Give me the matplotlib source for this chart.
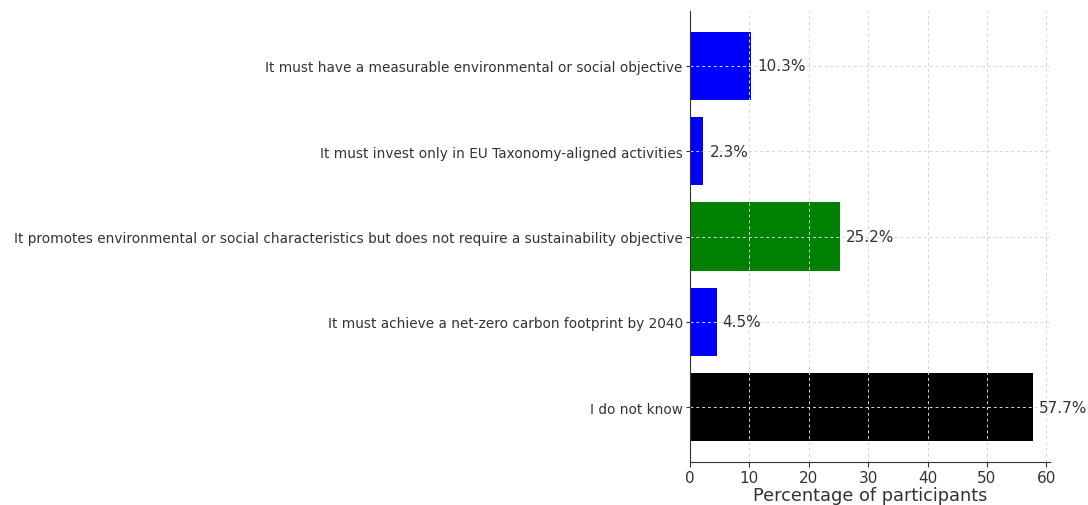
import matplotlib
matplotlib.use("Agg")
import matplotlib.pyplot as plt

labels = [
    "I do not know",
    "It must achieve a net-zero carbon footprint by 2040",
    "It promotes environmental or social characteristics but does not require a sustainability objective",
    "It must invest only in EU Taxonomy-aligned activities",
    "It must have a measurable environmental or social objective",
]
values = [57.7, 4.5, 25.2, 2.3, 10.3]
colors = ["black", "blue", "green", "blue", "blue"]

TEXT = "#333333"

fig = plt.figure(figsize=(10.88, 5.06), dpi=100)
ax = fig.add_axes([0.634, 0.085, 0.331, 0.891])

bars = ax.barh(labels, values, color=colors, height=0.8)
for b, v in zip(bars, values):
    ax.text(b.get_width() + 1, b.get_y() + b.get_height() / 2, f"{v}%",
            va="center", ha="left", fontsize=11, color=TEXT)

ax.set_xlim(0, 60.6)
ax.set_xticks(range(0, 61, 10))
ax.grid(True, linestyle=(0, (3, 3)), color="#d5d5d5", linewidth=0.7)
ax.set_axisbelow(False)
for s in ["top", "right"]:
    ax.spines[s].set_visible(False)
ax.spines["left"].set_color(TEXT)
ax.spines["bottom"].set_color(TEXT)
ax.spines["left"].set_zorder(3)
ax.tick_params(axis="x", direction="out", labelsize=11, colors=TEXT, length=3.5, pad=2)
ax.tick_params(axis="y", length=3, labelsize=9.85, labelcolor=TEXT, color=TEXT, pad=2)
ax.set_xlabel("Percentage of participants", fontsize=12.8, color=TEXT, labelpad=1)

fig.savefig("out.png", dpi=100)
